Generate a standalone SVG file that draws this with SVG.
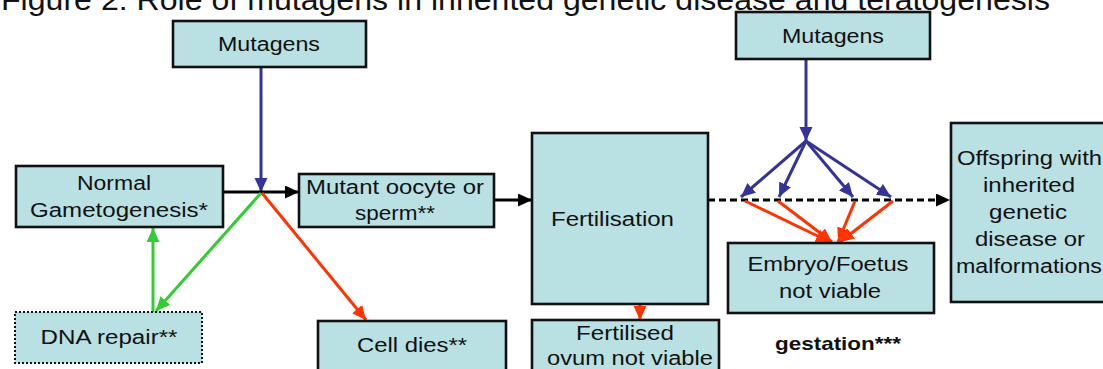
<svg xmlns="http://www.w3.org/2000/svg" width="1103" height="369" viewBox="0 0 1103 369">
<style>
.box{fill:#b9e0e3;stroke:#111;stroke-width:2.6}
.dot{fill:#b9e0e3;stroke:#111;stroke-width:2;stroke-dasharray:2 2}
.t{font-family:"Liberation Sans",Arial,sans-serif;font-size:20px;fill:#111;text-anchor:middle}
.b{font-weight:bold;font-size:19px}
.ttl{font-family:"Liberation Sans",Arial,sans-serif;font-size:29px;fill:#111}
.c{fill:none;stroke-width:3}
.blue{stroke:#333399}
.blk{stroke:#000}
.grn{stroke:#33cc33}
.red{stroke:#ff3300}
</style>
<defs>
<marker id="aBlue" markerUnits="userSpaceOnUse" markerWidth="16" markerHeight="16" refX="14" refY="6.5" orient="auto"><path d="M0,0 L14,6.5 L0,13 z" fill="#333399"/></marker>
<marker id="aBlk" markerUnits="userSpaceOnUse" markerWidth="16" markerHeight="16" refX="14" refY="6.5" orient="auto"><path d="M0,0 L14,6.5 L0,13 z" fill="#000"/></marker>
<marker id="aGrn" markerUnits="userSpaceOnUse" markerWidth="16" markerHeight="16" refX="14" refY="6.5" orient="auto"><path d="M0,0 L14,6.5 L0,13 z" fill="#33cc33"/></marker>
<marker id="aRed" markerUnits="userSpaceOnUse" markerWidth="16" markerHeight="16" refX="14" refY="6.5" orient="auto"><path d="M0,0 L14,6.5 L0,13 z" fill="#ff3300"/></marker>
</defs>
<rect width="1103" height="369" fill="#fff"/>
<text class="ttl" x="1" y="10" textLength="1049" lengthAdjust="spacingAndGlyphs">Figure 2: Role of mutagens in inherited genetic disease and teratogenesis</text>

<g id="connectors">
<line class="c blue" x1="261" y1="67" x2="261" y2="192" marker-end="url(#aBlue)"/>
<line class="c blk" x1="223" y1="192" x2="299" y2="192" marker-end="url(#aBlk)"/>
<line class="c grn" x1="261" y1="193" x2="156" y2="311" marker-end="url(#aGrn)"/>
<line class="c grn" x1="153" y1="312" x2="153" y2="228" marker-end="url(#aGrn)"/>
<line class="c red" x1="262" y1="193" x2="366" y2="320" marker-end="url(#aRed)"/>
<line class="c blk" x1="494" y1="200" x2="532" y2="200" marker-end="url(#aBlk)"/>
<line class="c red" x1="640" y1="304" x2="640" y2="320" marker-end="url(#aRed)"/>
<line class="c blk" x1="708" y1="200" x2="950" y2="200" stroke-dasharray="7 4" marker-end="url(#aBlk)"/>
<line class="c blue" x1="806" y1="59" x2="806" y2="141" marker-end="url(#aBlue)"/>
<line class="c blue" x1="806" y1="141" x2="741" y2="197" marker-end="url(#aBlue)"/>
<line class="c blue" x1="806" y1="141" x2="779" y2="197" marker-end="url(#aBlue)"/>
<line class="c blue" x1="806" y1="141" x2="853" y2="197" marker-end="url(#aBlue)"/>
<line class="c blue" x1="806" y1="141" x2="891" y2="197" marker-end="url(#aBlue)"/>
<line class="c red" x1="745" y1="201" x2="830" y2="242" marker-end="url(#aRed)"/>
<line class="c red" x1="778" y1="201" x2="832" y2="242" marker-end="url(#aRed)"/>
<line class="c red" x1="855" y1="201" x2="838" y2="242" marker-end="url(#aRed)"/>
<line class="c red" x1="893" y1="201" x2="840" y2="242" marker-end="url(#aRed)"/>
</g>

<g id="mutagens1"><rect class="box" x="173" y="21" width="193" height="46"/><text class="t" x="269" y="51" textLength="102" lengthAdjust="spacingAndGlyphs">Mutagens</text></g>
<g id="mutagens2"><rect class="box" x="736" y="12" width="194" height="47"/><text class="t" x="833" y="43" textLength="102" lengthAdjust="spacingAndGlyphs">Mutagens</text></g>
<g id="normal"><rect class="box" x="16" y="166" width="207" height="61"/><text class="t" x="114" y="189.5" textLength="74" lengthAdjust="spacingAndGlyphs">Normal</text><text class="t" x="119" y="217" textLength="178" lengthAdjust="spacingAndGlyphs">Gametogenesis*</text></g>
<g id="mutant"><rect class="box" x="299" y="174" width="195" height="53"/><text class="t" x="395" y="194" textLength="178" lengthAdjust="spacingAndGlyphs">Mutant oocyte or</text><text class="t" x="395" y="220" textLength="80" lengthAdjust="spacingAndGlyphs">sperm**</text></g>
<g id="fertilisation"><rect class="box" x="532" y="133" width="176" height="171"/><text class="t" x="612.5" y="225.5" textLength="123" lengthAdjust="spacingAndGlyphs">Fertilisation</text></g>
<g id="fertilised"><rect class="box" x="532" y="320" width="187" height="62"/><text class="t" x="625" y="340" textLength="98" lengthAdjust="spacingAndGlyphs">Fertilised</text><text class="t" x="630" y="365" textLength="166" lengthAdjust="spacingAndGlyphs">ovum not viable</text></g>
<g id="embryo"><rect class="box" x="728" y="243" width="206" height="70"/><text class="t" x="828" y="271" textLength="161" lengthAdjust="spacingAndGlyphs">Embryo/Foetus</text><text class="t" x="830" y="297.5" textLength="102" lengthAdjust="spacingAndGlyphs">not viable</text></g>
<g id="offspring"><rect class="box" x="951" y="123" width="165" height="179"/><text class="t" x="1029.5" y="165" textLength="145" lengthAdjust="spacingAndGlyphs">Offspring with</text><text class="t" x="1029" y="192" textLength="92" lengthAdjust="spacingAndGlyphs">inherited</text><text class="t" x="1028" y="219" textLength="78" lengthAdjust="spacingAndGlyphs">genetic</text><text class="t" x="1030" y="246" textLength="110" lengthAdjust="spacingAndGlyphs">disease or</text><text class="t" x="1029" y="273" textLength="146" lengthAdjust="spacingAndGlyphs">malformations</text></g>
<g id="dnarepair"><rect class="dot" x="15" y="312" width="187" height="51"/><text class="t" x="109" y="344" textLength="137" lengthAdjust="spacingAndGlyphs">DNA repair**</text></g>
<g id="celldies"><rect class="box" x="318" y="321" width="188" height="62"/><text class="t" x="412" y="352" textLength="110" lengthAdjust="spacingAndGlyphs">Cell dies**</text></g>
<g id="gestation"><text class="t b" x="838" y="350" textLength="126" lengthAdjust="spacingAndGlyphs">gestation***</text></g>
</svg>
